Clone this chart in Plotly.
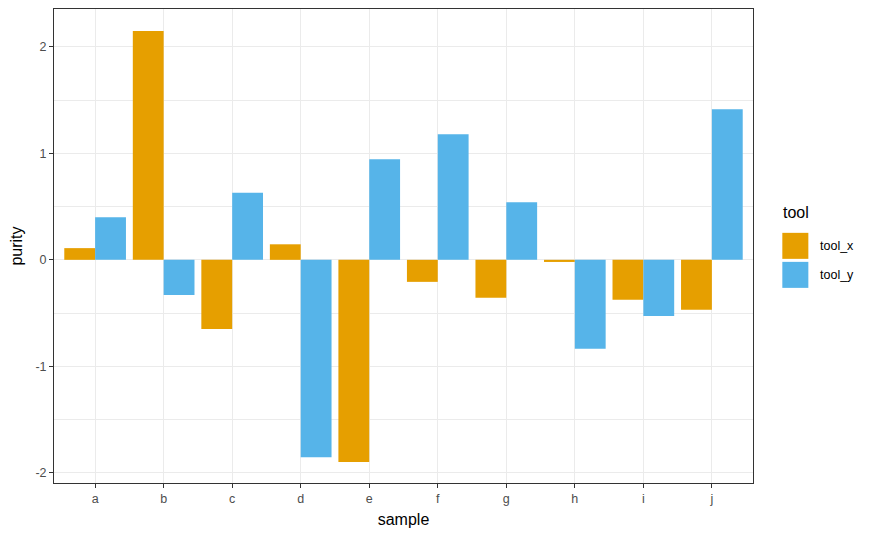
import plotly.graph_objects as go

samples = ["a", "b", "c", "d", "e", "f", "g", "h", "i", "j"]
tool_x = [0.11, 2.15, -0.65, 0.146, -1.90, -0.207, -0.356, -0.02, -0.375, -0.47]
tool_y = [0.40, -0.33, 0.63, -1.855, 0.945, 1.18, 0.54, -0.835, -0.527, 1.414]
tools = ["tool_x", "tool_y"]
colors = ["#E69F00", "#56B4E9"]
y_tickvals = [-2, -1, 0, 1, 2]
y_ticktext = ["-2", "-1", "0", "1", "2"]

W, H = 875, 540
OFF = 8  # default page body margin
L, R, T, B = 54.3, 752.7, 9.3, 483  # plot area in page pixels
FONT = "Liberation Sans, Arial, sans-serif"

fig = go.Figure()
for name, vals, col in zip(tools, [tool_x, tool_y], colors):
    fig.add_trace(go.Bar(x=samples, y=vals, name=name, marker=dict(color=col, line=dict(width=0)),
                         showlegend=False))

def px_x(p):
    return (p - L) / (R - L)

def px_y(p):
    return (B - p) / (B - T)

shapes = []
annotations = []
annotations.append(dict(text="tool", x=px_x(781), y=px_y(213), xref="paper", yref="paper",
                        xanchor="left", yanchor="middle", showarrow=False,
                        font=dict(family=FONT, size=16, color="black")))
key_tops = [233, 262]
for name, col, top in zip(tools, colors, key_tops):
    shapes.append(dict(type="rect", xref="paper", yref="paper",
                       x0=px_x(782), x1=px_x(808), y0=px_y(top + 26), y1=px_y(top),
                       fillcolor=col, line=dict(width=0)))
    annotations.append(dict(text=name, x=px_x(818), y=px_y(top + 13), xref="paper", yref="paper",
                            xanchor="left", yanchor="middle", showarrow=False,
                            font=dict(family=FONT, size=12.5, color="black")))

fig.update_layout(
    width=W, height=H,
    margin=dict(l=L - OFF, r=W - (R - OFF), t=T - OFF, b=H - (B - OFF), pad=0),
    paper_bgcolor="white", plot_bgcolor="white",
    barmode="group", bargap=0.1, bargroupgap=0,
    font=dict(family=FONT),
    shapes=shapes, annotations=annotations,
    xaxis=dict(
        range=[-0.6, 9.6], type="category",
        showgrid=True, gridcolor="#EBEBEB", gridwidth=1.2,
        ticks="outside", ticklen=4, tickcolor="#333333", tickwidth=1,
        tickfont=dict(family=FONT, size=12.5, color="#4D4D4D"),
        showline=True, linecolor="#333333", linewidth=1, mirror=True,
        zeroline=False,
        title=dict(text="sample", font=dict(family=FONT, size=16, color="black"), standoff=8),
    ),
    yaxis=dict(
        range=[-2.097, 2.357],
        tickvals=y_tickvals, ticktext=y_ticktext,
        showgrid=True, gridcolor="#EBEBEB", gridwidth=1.2,
        minor=dict(dtick=0.5, tick0=0, showgrid=True, gridcolor="#EBEBEB", gridwidth=0.7, ticks=""),
        ticks="outside", ticklen=4, tickcolor="#333333", tickwidth=1,
        tickfont=dict(family=FONT, size=12.5, color="#4D4D4D"),
        showline=True, linecolor="#333333", linewidth=1, mirror=True,
        zeroline=False,
        title=dict(text="purity", font=dict(family=FONT, size=16, color="black"), standoff=9),
    ),
)

fig.write_html("out.html")
